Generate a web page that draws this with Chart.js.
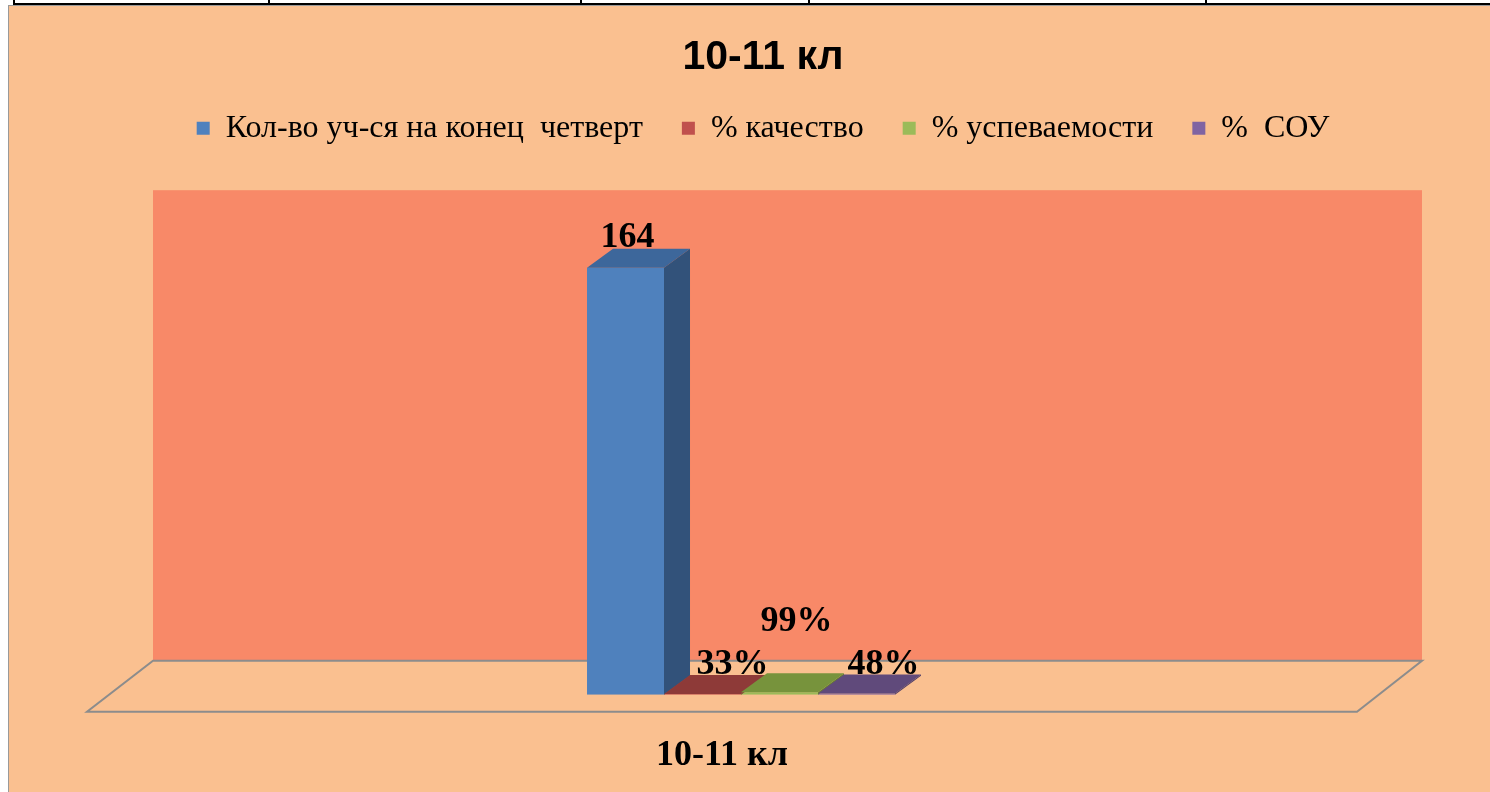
<!DOCTYPE html>
<html>
<head>
<meta charset="utf-8">
<script src="https://cdn.jsdelivr.net/npm/chart.js@4.4.1/dist/chart.umd.min.js"></script>
<style>
  html, body { margin: 0; padding: 0; background: #ffffff; width: 1490px; height: 792px; overflow: hidden; }
  .hline { position: absolute; left: 13px; top: 3px; width: 1477px; height: 2px; background: #000; }
  .vline { position: absolute; top: 0; width: 2px; height: 5px; background: #000; }
  #frame { position: absolute; left: 8px; top: 5px; width: 1482px; height: 787px; background: #FAC090;
           border-left: 1px solid #9a9a9a; border-top: 1px solid #9a9a9a; box-sizing: border-box; }
  #wrap { position: absolute; left: 9px; top: 6px; width: 1481px; height: 786px; }
</style>
</head>
<body>
<div class="hline"></div>
<div class="vline" style="left:13px"></div>
<div class="vline" style="left:268px"></div>
<div class="vline" style="left:580px"></div>
<div class="vline" style="left:808px"></div>
<div class="vline" style="left:1205px"></div>
<div id="frame"></div>
<div id="wrap"><canvas id="c" width="1481" height="786"></canvas></div>
<script>
// ---- data ----
const categories = ['10-11 кл'];
const seriesNames = ['Кол-во уч-ся на конец  четверт', '% качество', '% успеваемости', '%  СОУ'];
const countValues = [164];
const qualityValues = [0.33];
const progressValues = [0.99];
const souValues = [0.48];
const yAxisMax = 180;

// ---- styles ----
const frontColors = ['#4F81BD', '#C0504D', '#9BBB59', '#8064A2'];
const topColors = ['#3D679B', '#8E3A38', '#77933C', '#604A7B'];
const sideColors = ['#32527A', '#7A302E', '#66802F', '#503E68'];
const DEPTH_X = 26, DEPTH_Y = -19;
const labelShiftX = [2, 30, 17, 27];
const labelShiftY = [-21, -20, -61, -20];

function fmt(dsIndex, v) {
  return dsIndex === 0 ? String(v) : Math.round(v * 100) + '%';
}

const scene3d = {
  id: 'scene3d',
  beforeLayout(chart) {
    const lg = chart.legend;
    if (lg && !lg._patched) {
      const orig = lg.fit;
      lg.fit = function () { orig.call(this); this.height += 72; };
      lg._patched = true;
    }
  },
  beforeDatasetsDraw(chart) {
    const ctx = chart.ctx, a = chart.chartArea;
    const yTop = chart.scales.y.getPixelForValue(yAxisMax);
    ctx.save();
    // back wall
    ctx.fillStyle = '#F88968';
    ctx.fillRect(a.left + 47, yTop - 36, (a.right + 46) - (a.left + 47), (a.bottom - 34) - (yTop - 36));
    // floor
    ctx.beginPath();
    ctx.moveTo(a.left + 47, a.bottom - 34);
    ctx.lineTo(a.right + 46, a.bottom - 34);
    ctx.lineTo(a.right - 19, a.bottom + 17);
    ctx.lineTo(a.left - 19, a.bottom + 17);
    ctx.closePath();
    ctx.fillStyle = '#FAC090';
    ctx.fill();
    ctx.lineWidth = 2;
    ctx.strokeStyle = '#8C8C8C';
    ctx.stroke();
    ctx.restore();
  },
  afterDatasetsDraw(chart) {
    const ctx = chart.ctx;
    ctx.save();
    chart.data.datasets.forEach((ds, i) => {
      const meta = chart.getDatasetMeta(i);
      meta.data.forEach((bar, j) => {
        const p = bar.getProps(['x', 'y', 'base', 'width'], true);
        const l = p.x - p.width / 2, r = p.x + p.width / 2;
        // top face
        ctx.beginPath();
        ctx.moveTo(l, p.y); ctx.lineTo(r, p.y);
        ctx.lineTo(r + DEPTH_X, p.y + DEPTH_Y); ctx.lineTo(l + DEPTH_X, p.y + DEPTH_Y);
        ctx.closePath();
        ctx.fillStyle = topColors[i]; ctx.fill();
        // side face
        ctx.beginPath();
        ctx.moveTo(r, p.y); ctx.lineTo(r + DEPTH_X, p.y + DEPTH_Y);
        ctx.lineTo(r + DEPTH_X, p.base + DEPTH_Y); ctx.lineTo(r, p.base);
        ctx.closePath();
        ctx.fillStyle = sideColors[i]; ctx.fill();
      });
    });
    // labels
    ctx.font = 'bold 36px "Liberation Serif", "Times New Roman", serif';
    ctx.fillStyle = '#000';
    ctx.textAlign = 'center';
    ctx.textBaseline = 'alphabetic';
    chart.data.datasets.forEach((ds, i) => {
      const meta = chart.getDatasetMeta(i);
      meta.data.forEach((bar, j) => {
        const p = bar.getProps(['x', 'y'], true);
        ctx.fillText(fmt(i, ds.data[j]), p.x + labelShiftX[i], p.y + labelShiftY[i]);
      });
    });
    ctx.restore();
  }
};

const seriesValues = [countValues, qualityValues, progressValues, souValues];

new Chart(document.getElementById('c'), {
  type: 'bar',
  data: {
    labels: categories,
    datasets: seriesNames.map((name, i) => ({
      label: name,
      data: seriesValues[i],
      backgroundColor: frontColors[i],
      borderWidth: 0,
      categoryPercentage: 0.2425,
      barPercentage: 1.0
    }))
  },
  options: {
    responsive: false,
    animation: false,
    layout: { padding: { left: 40, right: 13, top: 0, bottom: -24 } },
    plugins: {
      title: {
        display: true,
        text: '10-11 кл',
        color: '#000',
        font: { family: '"Liberation Sans", Arial, sans-serif', size: 41, weight: 'bold', lineHeight: 1.2 },
        padding: { top: 27, bottom: -9 }
      },
      legend: {
        display: true,
        position: 'top',
        labels: {
          color: '#000',
          font: { family: '"Liberation Serif", "Times New Roman", serif', size: 32 },
          boxWidth: 13,
          boxHeight: 13,
          padding: 39
        }
      },
      tooltip: { enabled: false }
    },
    scales: {
      x: {
        grid: { display: false, drawTicks: false },
        border: { display: false },
        ticks: {
          color: '#000',
          font: { family: '"Liberation Serif", "Times New Roman", serif', size: 36, weight: 'bold' },
          padding: 39,
          labelOffset: -19,
          maxRotation: 0
        }
      },
      y: {
        min: 0,
        max: yAxisMax,
        position: 'left',
        grid: { display: false },
        border: { display: false },
        ticks: { display: false },
        afterFit(axis) { axis.width = 57; }
      },
      yR: {
        position: 'right',
        grid: { display: false },
        border: { display: false },
        ticks: { display: false },
        afterFit(axis) { axis.width = 101; }
      }
    }
  },
  plugins: [scene3d]
});
</script>
</body>
</html>
